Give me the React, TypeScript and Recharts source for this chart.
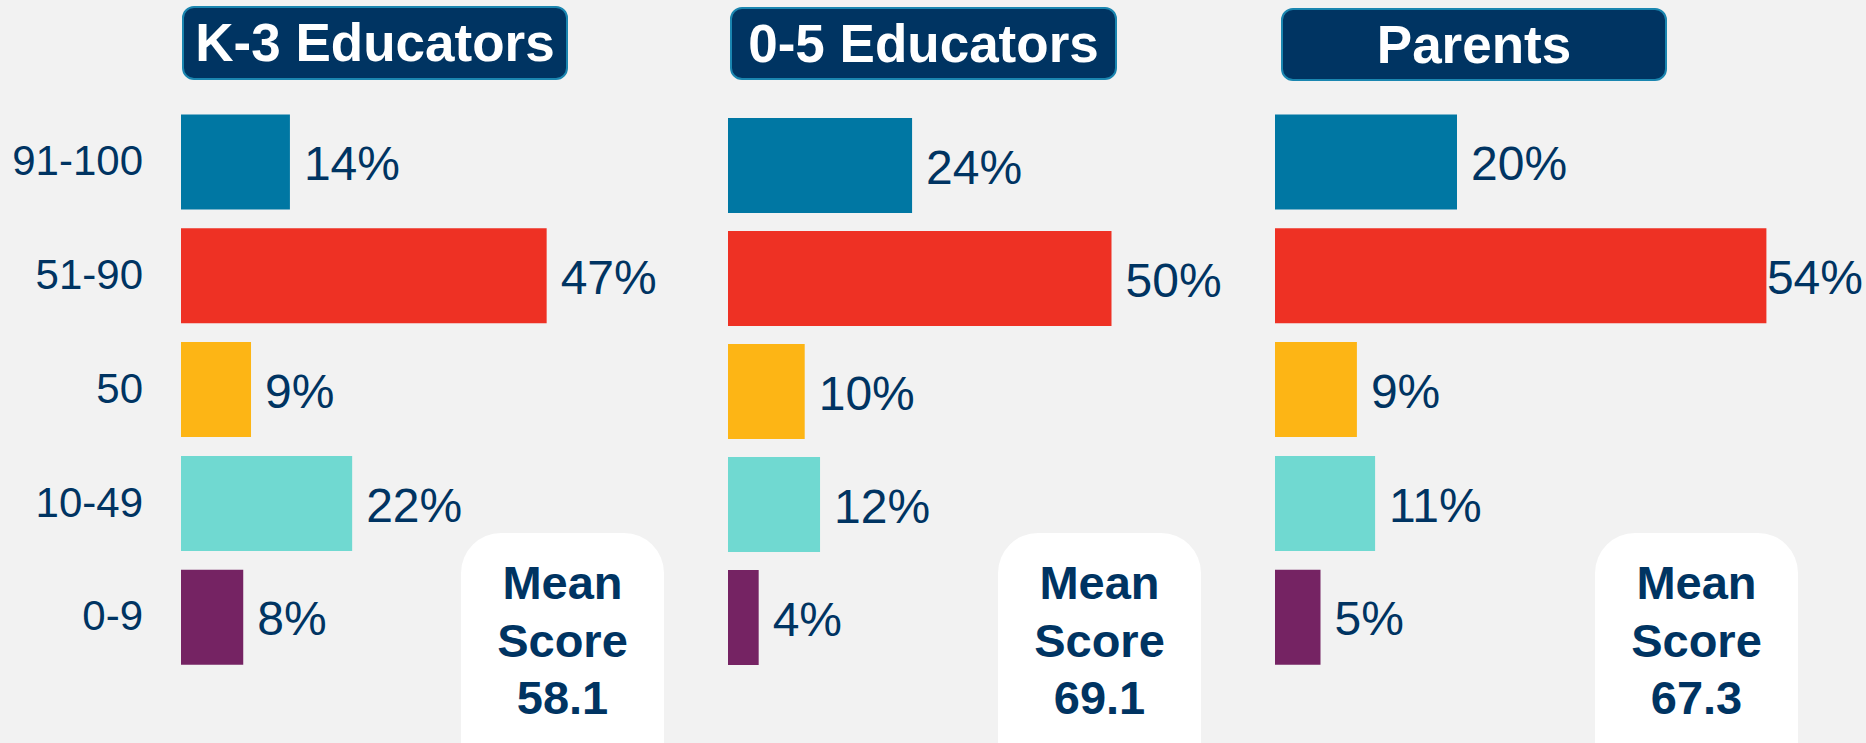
import React from "react";
import { Bar, BarChart, Cell, LabelList, XAxis, YAxis } from "recharts";

const categories = ["91-100", "51-90", "50", "10-49", "0-9"];
const k3Values = [14, 47, 9, 22, 8];
const earlyValues = [24, 50, 10, 12, 4];
const parentValues = [20, 54, 9, 11, 5];
const groupTitles = ["K-3 Educators", "0-5 Educators", "Parents"];
const meanScores = ["58.1", "69.1", "67.3"];

const BAR_COLORS = ["#0077A3", "#EE3124", "#FDB515", "#70D9D1", "#752363"];
const NAVY = "#003462";
const FONT = '"Liberation Sans", Arial, sans-serif';
const CHART_H = 743;
const DOMAIN_MAX = 60;
const LABEL_SIZE = 48;

// where each panel sits on the page
const PANELS = [
  { values: k3Values, left: 0, width: 720, axisWidth: 181, pxPerPct: 7.78, top: 105.6, bottom: 68.6, box: { left: 182, top: 6, width: 386, height: 74 }, meanLeft: 461 },
  { values: earlyValues, left: 728, width: 547, axisWidth: 0, pxPerPct: 7.67, top: 109, bottom: 69, box: { left: 730, top: 7, width: 387, height: 73 }, meanLeft: 998 },
  { values: parentValues, left: 1275, width: 591, axisWidth: 0, pxPerPct: 9.1, top: 105.6, bottom: 68.6, box: { left: 1281, top: 8, width: 386, height: 73 }, meanLeft: 1595 },
];

function textWidth(s: string, size: number) {
  let w = 0;
  for (const ch of s) w += ch === "%" ? 0.889 : 0.556;
  return w * size;
}

function ValueLabel(props: any) {
  const vb = props.viewBox || {};
  const x = props.x ?? vb.x;
  const y = props.y ?? vb.y;
  const width = props.width ?? vb.width;
  const height = props.height ?? vb.height;
  const text = `${props.value}%`;
  let tx = x + width + 14;
  let anchor: "start" | "end" = "start";
  // keep the label inside the picture when the bar runs long
  if (tx + textWidth(text, LABEL_SIZE) > props.maxRight) {
    tx = props.maxRight;
    anchor = "end";
  }
  return (
    <text
      x={tx}
      y={y + height / 2}
      dy="0.38em"
      textAnchor={anchor}
      fill={NAVY}
      fontSize={LABEL_SIZE}
      fontFamily={FONT}
    >
      {text}
    </text>
  );
}

function Panel({ idx }: { idx: number }) {
  const p = PANELS[idx];
  const data = categories.map((name, i) => ({ name, value: p.values[i] }));
  const plotW = DOMAIN_MAX * p.pxPerPct;
  const marginRight = p.width - p.axisWidth - plotW;
  const maxRight = 1863 - p.left;

  return (
    <div style={{ position: "absolute", left: p.left, top: 0 }}>
      <BarChart
        width={p.width}
        height={CHART_H}
        data={data}
        layout="vertical"
        margin={{ top: p.top, bottom: p.bottom, left: 0, right: marginRight }}
        style={{ overflow: "visible" }}
      >
        <XAxis type="number" domain={[0, DOMAIN_MAX]} hide />
        <YAxis
          type="category"
          dataKey="name"
          hide={idx !== 0}
          width={p.axisWidth}
          axisLine={false}
          tickLine={false}
          tickSize={0}
          tickMargin={38}
          tick={{ fill: NAVY, fontSize: 42, fontFamily: FONT, dy: -2 }}
        />
        <Bar dataKey="value" barSize={95} isAnimationActive={false}>
          {data.map((d, i) => (
            <Cell key={d.name} fill={BAR_COLORS[i]} />
          ))}
          <LabelList
            dataKey="value"
            content={(lp: any) => <ValueLabel {...lp} maxRight={maxRight} />}
          />
        </Bar>
      </BarChart>
      <div
        style={{
          position: "absolute",
          left: p.box.left - p.left,
          top: p.box.top,
          width: p.box.width,
          height: p.box.height,
          boxSizing: "border-box",
          background: NAVY,
          border: "2px solid #1B86B0",
          borderRadius: 12,
          color: "#fff",
          fontFamily: FONT,
          fontWeight: 700,
          fontSize: 53,
          lineHeight: `${p.box.height - 4}px`,
          textAlign: "center",
          whiteSpace: "nowrap",
        }}
      >
        {groupTitles[idx]}
      </div>
      <div
        style={{
          position: "absolute",
          left: p.meanLeft - p.left,
          top: 533,
          width: 203,
          height: 260,
          boxSizing: "border-box",
          paddingTop: 21,
          background: "#fff",
          borderRadius: 40,
          color: NAVY,
          fontFamily: FONT,
          fontWeight: 700,
          fontSize: 47,
          lineHeight: "57.5px",
          textAlign: "center",
        }}
      >
        Mean
        <br />
        Score
        <br />
        {meanScores[idx]}
      </div>
    </div>
  );
}

export default function App() {
  return (
    <div
      style={{
        position: "absolute",
        left: 0,
        top: 0,
        width: 1866,
        height: CHART_H,
        overflow: "hidden",
        background: "#F2F2F2",
      }}
    >
      {PANELS.map((_, i) => (
        <Panel key={i} idx={i} />
      ))}
    </div>
  );
}
